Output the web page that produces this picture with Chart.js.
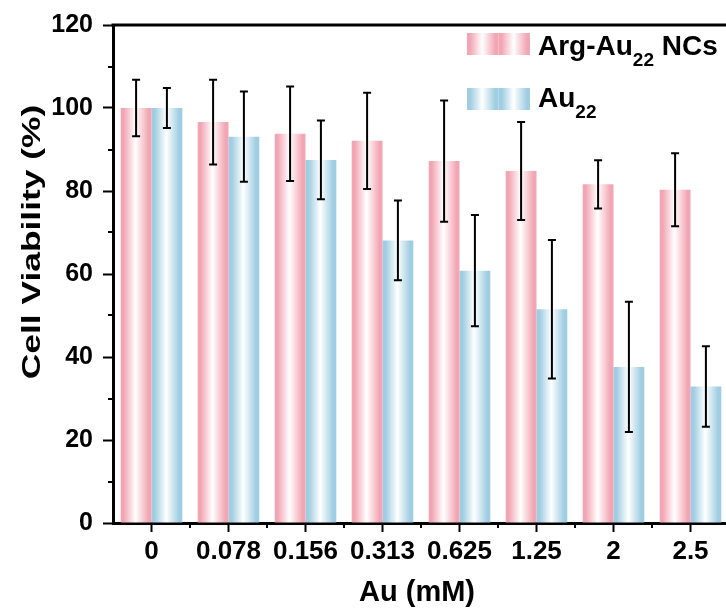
<!DOCTYPE html>
<html lang="en">
<head>
    <meta charset="UTF-8">
    <title>Cell Viability</title>
    <script src="https://cdn.jsdelivr.net/npm/chart.js"></script>
    <style>
        html, body { margin: 0; padding: 0; background: #fff; overflow: hidden; }
        #chart { position: absolute; left: 0; top: 0; }
    </style>
</head>
<body>
    <canvas id="chart" width="740" height="608"></canvas>

    <script>
        // Data
        const categories = ['0', '0.078', '0.156', '0.313', '0.625', '1.25', '2', '2.5'];
        const argMeans = [100, 96.6, 93.8, 92.1, 87.2, 84.8, 81.6, 80.3];
        const argErrors = [6.8, 10.2, 11.4, 11.6, 14.6, 11.8, 5.8, 8.8];
        const auMeans = [100, 93.1, 87.5, 68.1, 60.8, 51.5, 37.6, 32.9];
        const auErrors = [4.8, 10.9, 9.5, 9.6, 13.4, 16.7, 15.7, 9.7];
        const yTicks = [0, 20, 40, 60, 80, 100, 120];

        const PINK = '#f2a6b4';
        const BLUE = '#9fcde1';
        const FONT = '"Liberation Sans", Arial, sans-serif';

        function barGradient(ctx, x0, x1, color) {
            const g = ctx.createLinearGradient(x0, 0, x1, 0);
            g.addColorStop(0, color);
            g.addColorStop(0.1, color);
            g.addColorStop(0.48, '#ffffff');
            g.addColorStop(0.9, color);
            g.addColorStop(1, color);
            return g;
        }

        // paint each bar with a white-centred gradient
        const gradientBars = {
            id: 'gradientBars',
            beforeDatasetsDraw(chart) {
                chart.data.datasets.forEach((ds, i) => {
                    chart.getDatasetMeta(i).data.forEach(bar => {
                        const half = bar.width / 2;
                        bar.options.backgroundColor = barGradient(chart.ctx, bar.x - half, bar.x + half, ds.edgeColor);
                    });
                });
            }
        };

        const errorBars = {
            id: 'errorBars',
            afterDatasetsDraw(chart) {
                const ctx = chart.ctx;
                const y = chart.scales.y;
                ctx.save();
                ctx.strokeStyle = '#000';
                ctx.lineWidth = 2;
                chart.data.datasets.forEach((ds, i) => {
                    chart.getDatasetMeta(i).data.forEach((bar, j) => {
                        const m = ds.data[j], e = ds.errors[j];
                        const yt = y.getPixelForValue(m + e);
                        const yb = y.getPixelForValue(m - e);
                        ctx.beginPath();
                        ctx.moveTo(bar.x, yt); ctx.lineTo(bar.x, yb);
                        ctx.moveTo(bar.x - 4, yt); ctx.lineTo(bar.x + 4, yt);
                        ctx.moveTo(bar.x - 4, yb); ctx.lineTo(bar.x + 4, yb);
                        ctx.stroke();
                    });
                });
                ctx.restore();
            }
        };

        function drawSubText(ctx, x, y, parts, size) {
            // parts: [normal, subscript, normal]
            ctx.font = 'bold ' + size + 'px ' + FONT;
            ctx.fillText(parts[0], x, y);
            x += ctx.measureText(parts[0]).width;
            ctx.font = 'bold ' + Math.round(size * 0.68) + 'px ' + FONT;
            ctx.fillText(parts[1], x, y + 11);
            x += ctx.measureText(parts[1]).width;
            ctx.font = 'bold ' + size + 'px ' + FONT;
            ctx.fillText(parts[2], x, y);
        }

        // frame, minor ticks, axis titles and legend
        const decorations = {
            id: 'decorations',
            afterDraw(chart) {
                const ctx = chart.ctx;
                const area = chart.chartArea;
                const y = chart.scales.y;
                ctx.save();
                ctx.strokeStyle = '#000';
                ctx.fillStyle = '#000';

                ctx.lineWidth = 3;
                ctx.beginPath();
                ctx.moveTo(area.left - 1.5, area.top);
                ctx.lineTo(area.right, area.top);
                ctx.lineTo(area.right, area.bottom);
                ctx.stroke();

                ctx.lineWidth = 2;
                ctx.beginPath();
                for (let v = 10; v < 120; v += 20) {
                    const py = Math.round(y.getPixelForValue(v));
                    ctx.moveTo(area.left - 5, py);
                    ctx.lineTo(area.left, py);
                }
                const step = (area.right - area.left) / categories.length;
                for (let k = 1; k < categories.length; k++) {
                    const px = Math.round(area.left + k * step);
                    ctx.moveTo(px, area.bottom);
                    ctx.lineTo(px, area.bottom + 5);
                }
                ctx.stroke();

                // y title
                ctx.save();
                ctx.translate(33, 242);
                ctx.rotate(-Math.PI / 2);
                ctx.scale(1.36, 1);
                ctx.font = 'bold 26px ' + FONT;
                ctx.textAlign = 'center';
                ctx.textBaseline = 'middle';
                ctx.fillText('Cell Viability (%)', 0, 0);
                ctx.restore();

                // x title
                ctx.font = 'bold 29px ' + FONT;
                ctx.textAlign = 'center';
                ctx.textBaseline = 'alphabetic';
                ctx.fillText('Au (mM)', 417, 601);

                // legend
                ctx.textAlign = 'left';
                const rows = [
                    { color: PINK, top: 33, parts: ['Arg-Au', '22', ' NCs'], base: 55 },
                    { color: BLUE, top: 88, parts: ['Au', '22', ''], base: 107 }
                ];
                rows.forEach(r => {
                    for (let s = 0; s < 2; s++) {
                        const x0 = 467 + s * 31.5;
                        ctx.fillStyle = barGradient(ctx, x0, x0 + 31.5, r.color);
                        ctx.fillRect(x0, r.top, 31.5, 22);
                    }
                    ctx.fillStyle = '#000';
                    drawSubText(ctx, 538, r.base, r.parts, 28);
                });
                ctx.restore();
            }
        };

        new Chart(document.getElementById('chart').getContext('2d'), {
            type: 'bar',
            data: {
                labels: categories,
                datasets: [
                    // scriptable colour keeps per-bar options unshared
                    { label: 'Arg-Au22 NCs', data: argMeans, errors: argErrors, edgeColor: PINK, backgroundColor: () => PINK, borderWidth: 0 },
                    { label: 'Au22', data: auMeans, errors: auErrors, edgeColor: BLUE, backgroundColor: () => BLUE, borderWidth: 0 }
                ]
            },
            options: {
                responsive: false,
                devicePixelRatio: 1,
                animation: false,
                categoryPercentage: 0.8,
                barPercentage: 1.0,
                layout: { padding: { top: 25, right: 11, left: 0, bottom: 0 } },
                plugins: { legend: { display: false }, tooltip: { enabled: false } },
                scales: {
                    x: {
                        afterFit: s => { s.height = 85; },
                        border: { display: true, color: '#000', width: 3 },
                        grid: { drawOnChartArea: false, offset: false, tickLength: 9, tickWidth: 2, tickColor: '#000' },
                        ticks: { color: '#000', padding: 4, maxRotation: 0, autoSkip: false, font: { family: FONT, size: 26, weight: 'bold' } }
                    },
                    y: {
                        min: 0,
                        max: 120,
                        afterFit: s => { s.width = 113; },
                        afterBuildTicks: s => { s.ticks = yTicks.map(v => ({ value: v })); },
                        border: { display: true, color: '#000', width: 3 },
                        grid: { drawOnChartArea: false, tickLength: 10, tickWidth: 2, tickColor: '#000' },
                        ticks: { color: '#000', padding: 10, font: { family: FONT, size: 25, weight: 'bold' } }
                    }
                }
            },
            plugins: [gradientBars, errorBars, decorations]
        });
    </script>
</body>
</html>
